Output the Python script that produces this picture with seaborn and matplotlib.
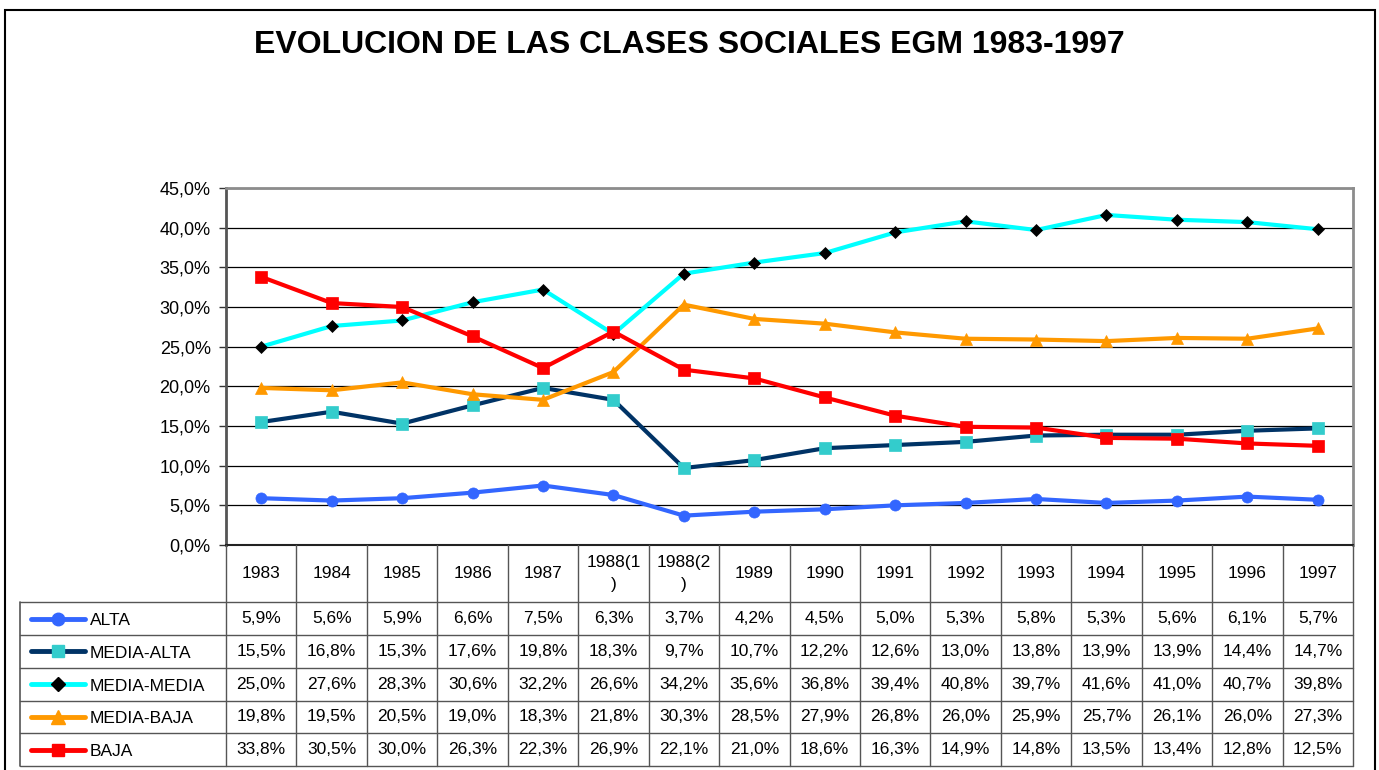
import numpy as np
import pandas as pd
import seaborn as sns
from matplotlib import pyplot as plt
from matplotlib.patches import Rectangle
from matplotlib.ticker import FuncFormatter

# datos EGM 1983-1997 (% de poblacion)
anios = ["1983", "1984", "1985", "1986", "1987", "1988(1)", "1988(2)", "1989",
         "1990", "1991", "1992", "1993", "1994", "1995", "1996", "1997"]
clases = ["ALTA", "MEDIA-ALTA", "MEDIA-MEDIA", "MEDIA-BAJA", "BAJA"]

alta = [5.9, 5.6, 5.9, 6.6, 7.5, 6.3, 3.7, 4.2, 4.5, 5.0, 5.3, 5.8, 5.3, 5.6, 6.1, 5.7]
media_alta = [15.5, 16.8, 15.3, 17.6, 19.8, 18.3, 9.7, 10.7, 12.2, 12.6, 13.0, 13.8, 13.9, 13.9, 14.4, 14.7]
media_media = [25.0, 27.6, 28.3, 30.6, 32.2, 26.6, 34.2, 35.6, 36.8, 39.4, 40.8, 39.7, 41.6, 41.0, 40.7, 39.8]
media_baja = [19.8, 19.5, 20.5, 19.0, 18.3, 21.8, 30.3, 28.5, 27.9, 26.8, 26.0, 25.9, 25.7, 26.1, 26.0, 27.3]
baja = [33.8, 30.5, 30.0, 26.3, 22.3, 26.9, 22.1, 21.0, 18.6, 16.3, 14.9, 14.8, 13.5, 13.4, 12.8, 12.5]

series = [alta, media_alta, media_media, media_baja, baja]

# estilo de cada serie: color linea, marcador, color marcador, tamaño
estilos = {
    "ALTA": ("#3366FF", "o", "#3366FF", 8),
    "MEDIA-ALTA": ("#003366", "s", "#33CCCC", 8),
    "MEDIA-MEDIA": ("#00FFFF", "D", "#000000", 6.5),
    "MEDIA-BAJA": ("#FF9900", "^", "#FF9900", 9),
    "BAJA": ("#FF0000", "s", "#FF0000", 8),
}

df = pd.DataFrame({"anio": anios, "x": np.arange(len(anios))})
for c, s in zip(clases, series):
    df[c] = s

sns.set_style("white")
plt.rcParams['font.family'] = ['Liberation Sans', 'DejaVu Sans']
plt.rcParams['text.color'] = 'black'
plt.rcParams['ytick.labelcolor'] = 'black'

W, H = 1379, 770
fig = plt.figure(figsize=(W / 100, H / 100), dpi=100)

# area del grafico
pl, pr, pt, pb = 226, 1353, 188, 545
ax = fig.add_axes([pl / W, 1 - pb / H, (pr - pl) / W, (pb - pt) / H])

for c in clases:
    col, mk, mfc, ms = estilos[c]
    sns.lineplot(data=df, x="x", y=c, ax=ax, color=col, linewidth=3,
                 marker=mk, markersize=ms, markerfacecolor=mfc,
                 markeredgecolor=mfc, markeredgewidth=0.5, clip_on=False, zorder=3)

ax.set_xlim(-0.5, len(anios) - 0.5)
ax.set_ylim(0, 45)
ax.set_yticks(np.arange(0, 46, 5))
ax.yaxis.set_major_formatter(FuncFormatter(lambda v, p: f"{v:.1f}%".replace('.', ',')))
ax.set_xticks([])
ax.set_xlabel("")
ax.set_ylabel("")
ax.grid(axis="y", color="black", linewidth=0.9)
ax.tick_params(axis="y", left=True, length=5, width=1, color="#333333",
               labelsize=13, labelcolor="black", pad=6)
for lado in ["top", "right"]:
    ax.spines[lado].set_color("#8c8c8c")
    ax.spines[lado].set_linewidth(2)
ax.spines["left"].set_color("#555555")
ax.spines["left"].set_linewidth(2)
ax.spines["bottom"].set_color("#222222")
ax.spines["bottom"].set_linewidth(1.5)

# tabla de datos
tl, tb = 20, 766
n = len(anios)
ancho_cat = (pr - pl) / n
x_izq = -0.5 - (pl - tl) / ancho_cat
cab = 1.75  # alto de la fila de cabecera
tax = fig.add_axes([tl / W, 1 - tb / H, (pr - tl) / W, (tb - pb) / H])
tax.set_xlim(x_izq, n - 0.5)
tax.set_ylim(cab + len(clases), 0)
tax.axis("off")

gris = "#555555"
for k in range(n + 1):
    tax.plot([k - 0.5, k - 0.5], [0, cab + len(clases)], color=gris, lw=1, clip_on=False)
tax.plot([x_izq, x_izq], [cab, cab + len(clases)], color=gris, lw=1.2, clip_on=False)
for r in range(len(clases) + 1):
    tax.plot([x_izq, n - 0.5], [cab + r, cab + r], color=gris, lw=1, clip_on=False)

for i, a in enumerate(anios):
    etiqueta = a if len(a) <= 4 else a[:-1] + "\n" + a[-1]
    tax.text(i, cab / 2, etiqueta, ha="center", va="center", fontsize=12.5,
             linespacing=1.6)

def px(p):
    return x_izq + (p - tl) / ancho_cat

for r, (c, s) in enumerate(zip(clases, series)):
    yc = cab + r + 0.5
    col, mk, mfc, ms = estilos[c]
    tax.plot([px(31), px(85)], [yc, yc], color=col, lw=3.5, clip_on=False)
    tax.plot([px(58)], [yc], marker=mk, markersize=ms + 1, color=mfc,
             markeredgecolor=mfc, clip_on=False)
    tax.text(px(90), yc + 0.06, c, ha="left", va="center", fontsize=12.5)
    for i, v in enumerate(s):
        tax.text(i, yc, f"{v:.1f}%".replace('.', ','), ha="center",
                 va="center", fontsize=12.5)

fig.text(0.5, 1 - 45 / H, "EVOLUCION DE LAS CLASES SOCIALES EGM 1983-1997",
         ha="center", va="center", fontsize=23, fontweight="bold", color="black")

# marco exterior
fig.add_artist(Rectangle((5 / W, -0.02), (1375 - 5) / W, 1.02 - 10 / H,
                         transform=fig.transFigure, fill=False,
                         edgecolor="black", linewidth=1.5))

fig.savefig("out.png", dpi=100)
